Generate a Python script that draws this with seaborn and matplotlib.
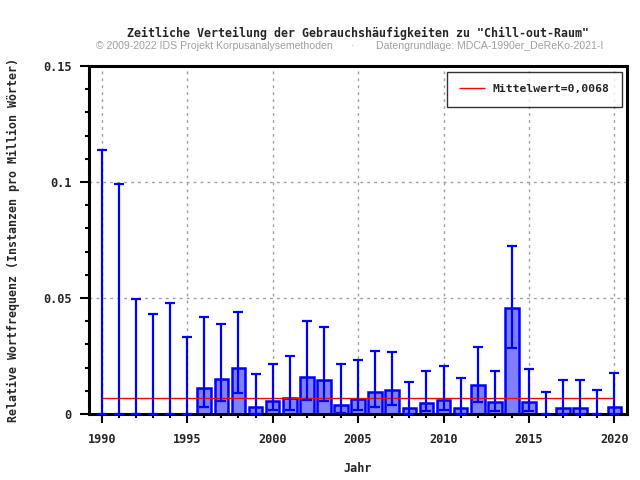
"""Zeitliche Verteilung der Gebrauchshaeufigkeiten zu 'Chill-out-Raum'."""

import matplotlib
matplotlib.use('Agg')
import matplotlib.pyplot as plt
from matplotlib.ticker import MultipleLocator, FuncFormatter
import seaborn as sns
import pandas as pd

# Data
years = list(range(1990, 2021))
freq = [0.0, 0.0, 0.0, 0.0, 0.0, 0.0, 0.0113, 0.0150, 0.0200, 0.0032,
        0.0057, 0.0070, 0.0158, 0.0145, 0.0040, 0.0063, 0.0093, 0.0102,
        0.0027, 0.0049, 0.0059, 0.0027, 0.0124, 0.0050, 0.0458, 0.0053,
        0.0, 0.0027, 0.0027, 0.0, 0.0032]
err_low = [0.0, 0.0, 0.0, 0.0, 0.0, 0.0, 0.0032, 0.0057, 0.0091, 0.0001,
           0.0017, 0.0017, 0.0060, 0.0056, 0.0006, 0.0017, 0.0032, 0.0039,
           0.0001, 0.0014, 0.0019, 0.0001, 0.0053, 0.0013, 0.0286, 0.0013,
           0.0, 0.0001, 0.0001, 0.0, 0.0001]
err_high = [0.1138, 0.0990, 0.0497, 0.0430, 0.0480, 0.0333, 0.0419, 0.0389,
            0.0441, 0.0172, 0.0217, 0.0251, 0.0402, 0.0376, 0.0217, 0.0233,
            0.0273, 0.0269, 0.0139, 0.0187, 0.0207, 0.0156, 0.0290, 0.0187,
            0.0725, 0.0195, 0.0095, 0.0147, 0.0147, 0.0103, 0.0178]
mean_value = 0.0068
mean_label = 'Mittelwert=0,0068'

sns.set_theme(style="white")
mono = 'DejaVu Sans Mono'
plt.rcParams['font.family'] = [mono, 'DejaVu Sans']

df = pd.DataFrame({'Jahr': years, 'freq': freq,
                   'low': err_low, 'high': err_high})

fig = plt.figure(figsize=(6.4, 4.8), dpi=100)
ax = fig.add_axes([0.139, 0.1375, 0.841, 0.725])

ax.grid(True, which='major', color='#a0a0a0', linestyle=(0, (2, 3)), linewidth=1)
ax.set_axisbelow(True)

sns.barplot(data=df, x='Jahr', y='freq', native_scale=True, errorbar=None,
            color='#8080ff', saturation=1, edgecolor='#0000ff', linewidth=1.8,
            width=0.8, ax=ax, zorder=2)

ax.errorbar(df['Jahr'], df['freq'],
            yerr=[df['freq'] - df['low'], df['high'] - df['freq']],
            fmt='none', ecolor='#0000ff', elinewidth=1.6, capsize=3.5,
            capthick=1.6, zorder=3)

ax.hlines(mean_value, years[0], years[-1], color='#ff0000', linewidth=1,
          zorder=2.5, label=mean_label)

ax.set_xlim(1989.25, 2020.75)
ax.set_ylim(0, 0.15)
ax.xaxis.set_major_locator(MultipleLocator(5))
ax.xaxis.set_minor_locator(MultipleLocator(1))
ax.yaxis.set_major_locator(MultipleLocator(0.05))
ax.yaxis.set_minor_locator(MultipleLocator(0.01))
ax.yaxis.set_major_formatter(FuncFormatter(lambda v, p: f'{v:g}'))
ax.xaxis.set_major_formatter(FuncFormatter(lambda v, p: f'{v:.0f}'))

ax.tick_params(which='major', direction='out', length=6.5, width=1.5,
               color='black', labelsize=8.6)
ax.tick_params(which='minor', direction='out', length=3, width=1.5,
               color='black')
ax.tick_params(axis='x', which='both', bottom=True, pad=7)
ax.tick_params(axis='y', which='both', left=True, pad=6)
for lab in ax.get_xticklabels() + ax.get_yticklabels():
    lab.set_fontweight('bold')

for side in ['left', 'right', 'top', 'bottom']:
    ax.spines[side].set_visible(True)
    ax.spines[side].set_color('black')
    ax.spines[side].set_linewidth(2.2)

ax.set_xlabel('Jahr', fontsize=8.5, fontweight='bold')
ax.set_ylabel('Relative Wortfrequenz (Instanzen pro Million Wörter)',
              fontsize=8.4, fontweight='bold')
ax.xaxis.set_label_coords(0.5, -0.138)
ax.yaxis.set_label_coords(-0.128, 0.5)

leg = ax.legend(loc='upper right', frameon=True, fancybox=False,
                edgecolor='black', handlelength=2.3, handletextpad=0.6,
                borderpad=1.1, borderaxespad=0.5,
                prop={'family': mono, 'weight': 'bold', 'size': 8.2})
leg.get_frame().set_linewidth(1)

fig.text(0.56, 1 - 33 / 480, 'Zeitliche Verteilung der Gebrauchshäufigkeiten zu "Chill-out-Raum"',
         ha='center', va='center', fontsize=8.4, fontweight='bold', family=mono)
fig.text(96 / 640, 1 - 46 / 480, '© 2009-2022 IDS Projekt Korpusanalysemethoden',
         ha='left', va='center', fontsize=7.6, color='#a0a0a0', family='Liberation Sans')
fig.text(352 / 640, 1 - 46 / 480, '·',
         ha='center', va='center', fontsize=7.6, color='#a0a0a0', family='Liberation Sans')
fig.text(376 / 640, 1 - 46 / 480, 'Datengrundlage: MDCA-1990er_DeReKo-2021-I',
         ha='left', va='center', fontsize=7.6, color='#a0a0a0', family='Liberation Sans')

fig.savefig('out.png', dpi=100)
plt.close(fig)
